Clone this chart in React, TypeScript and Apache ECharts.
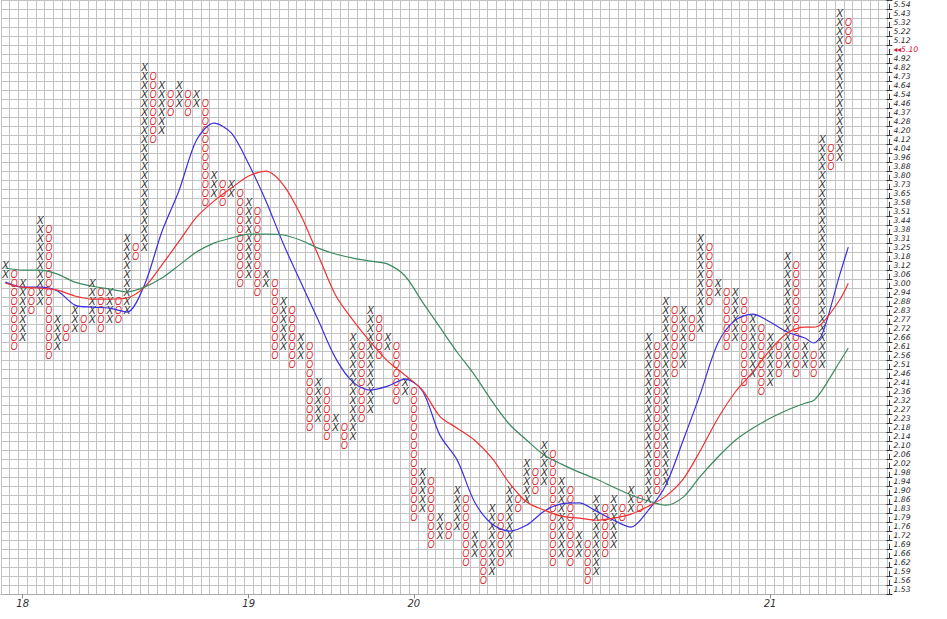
import React, { useEffect, useRef } from "react";
import * as echarts from "echarts";

// Box levels (top to bottom), 2% log boxes
const levels = [
  5.54, 5.43, 5.32, 5.22, 5.12, 5.02, 4.92, 4.82, 4.73, 4.64, 4.54, 4.46, 4.37, 4.28, 4.2, 4.12,
  4.04, 3.96, 3.88, 3.8, 3.73, 3.65, 3.58, 3.51, 3.44, 3.38, 3.31, 3.25, 3.18, 3.12, 3.06, 3.0,
  2.94, 2.88, 2.83, 2.77, 2.72, 2.66, 2.61, 2.56, 2.51, 2.46, 2.41, 2.36, 2.32, 2.27, 2.23, 2.18,
  2.14, 2.1, 2.06, 2.02, 1.98, 1.94, 1.9, 1.86, 1.83, 1.79, 1.76, 1.72, 1.69, 1.66, 1.62, 1.59,
  1.56, 1.53,
];
const lastPrice = 5.1;
const lastPriceLevel = 5.02;

// Point & figure columns
const colType = [
  "X","O","X","O","X","O","X","O","X","O","X","O","X","O","X","O","X","O","X","O",
  "X","O","X","O","X","O","X","O","X","O","X","O","X","O","X","O","X","O","X","O",
  "X","O","X","O","X","O","X","O","X","O","X","O","X","O","X","O","X","O","X","O",
  "X","O","X","O","X","O","X","O","X","O","X","O","X","O","X","O","X","O","X","O",
  "X","O","X","O","X","O","X","O","X","O","X","O","X","O","X","O","X","O",
];
const colHigh = [
  3.12, 3.06, 3.0, 2.94, 3.44, 3.38, 2.77, 2.72, 2.83, 2.77, 3.0, 2.94, 2.94, 2.88, 3.31, 3.25,
  4.82, 4.73, 4.64, 4.54, 4.64, 4.54, 4.54, 4.46, 3.8, 3.73, 3.73, 3.65, 3.58, 3.51, 3.06, 3.0,
  2.88, 2.83, 2.66, 2.61, 2.41, 2.36, 2.23, 2.18, 2.66, 2.61, 2.83, 2.77, 2.66, 2.61, 2.41, 2.36,
  1.98, 1.94, 1.79, 1.76, 1.9, 1.86, 1.72, 1.69, 1.83, 1.79, 1.9, 1.86, 2.02, 1.98, 2.1, 2.06,
  1.94, 1.9, 1.72, 1.69, 1.86, 1.83, 1.86, 1.83, 1.9, 1.86, 2.66, 2.61, 2.88, 2.83, 2.83, 2.77,
  3.31, 3.25, 3.0, 2.94, 2.94, 2.88, 2.77, 2.72, 2.66, 2.61, 3.18, 3.12, 2.61, 2.56, 4.12, 4.04,
  5.43, 5.32,
];
const colLow = [
  3.06, 2.61, 2.66, 2.83, 2.88, 2.56, 2.61, 2.66, 2.72, 2.72, 2.77, 2.72, 2.77, 2.77, 2.83, 3.18,
  3.25, 4.12, 4.2, 4.37, 4.46, 4.37, 4.46, 3.58, 3.65, 3.58, 3.65, 3.0, 3.06, 2.94, 3.0, 2.56,
  2.61, 2.51, 2.56, 2.18, 2.23, 2.14, 2.18, 2.1, 2.14, 2.23, 2.27, 2.56, 2.61, 2.32, 2.36, 1.79,
  1.83, 1.69, 1.72, 1.72, 1.76, 1.62, 1.66, 1.56, 1.59, 1.62, 1.66, 1.83, 1.86, 1.9, 1.94, 1.62,
  1.66, 1.62, 1.66, 1.56, 1.59, 1.66, 1.69, 1.79, 1.83, 1.83, 1.86, 1.9, 1.94, 2.46, 2.51, 2.66,
  2.72, 2.88, 2.94, 2.61, 2.66, 2.41, 2.46, 2.36, 2.41, 2.46, 2.51, 2.46, 2.51, 2.46, 2.51, 3.88,
  3.96, 5.12,
];

// Year labels on the column axis
const yearCols = [2, 28, 47, 88];
const yearTexts = ["18", "19", "20", "21"];

// Moving averages (price), sampled at these columns
const maCols = [
  0, 2, 4, 6, 8, 10, 12, 14, 16, 18, 20, 22, 24, 26, 28, 30, 32, 34, 36, 38, 40, 42, 44, 46, 48,
  50, 52, 54, 56, 58, 60, 62, 64, 66, 68, 70, 72, 74, 76, 78, 80, 82, 84, 86, 88, 90, 92, 93, 94,
  96, 97,
];
const maFast = [
  3.01, 2.977, 2.977, 2.952, 2.862, 2.849, 2.843, 2.818, 2.99, 3.361, 3.685, 4.115, 4.27, 4.179,
  3.903, 3.597, 3.273, 3.01, 2.769, 2.547, 2.416, 2.374, 2.395, 2.432, 2.369, 2.15, 2.035, 1.856,
  1.768, 1.741, 1.764, 1.819, 1.848, 1.852, 1.819, 1.783, 1.756, 1.823, 1.926, 2.126, 2.358,
  2.633, 2.769, 2.806, 2.757, 2.697, 2.662, 2.633, 2.685, 3.057, 3.251,
];
const maMid = [
  3.003, 2.977, 2.971, 2.958, 2.92, 2.9, 2.9, 2.907, 2.977, 3.125, 3.294, 3.473, 3.597, 3.702,
  3.801, 3.842, 3.727, 3.488, 3.194, 2.925, 2.769, 2.639, 2.53, 2.453, 2.374, 2.241, 2.183, 2.126,
  2.044, 1.935, 1.856, 1.823, 1.799, 1.791, 1.783, 1.791, 1.807, 1.839, 1.88, 1.952, 2.08, 2.231,
  2.364, 2.469, 2.592, 2.691, 2.726, 2.726, 2.751, 2.894, 3.003,
];
const maSlow = [
  3.105, 3.091, 3.091, 3.064, 3.01, 2.983, 2.965, 2.946, 2.977, 3.037, 3.125, 3.216, 3.28, 3.316,
  3.346, 3.346, 3.339, 3.301, 3.244, 3.202, 3.173, 3.152, 3.132, 3.051, 2.881, 2.726, 2.58, 2.453,
  2.317, 2.202, 2.126, 2.058, 2.017, 1.982, 1.952, 1.917, 1.885, 1.86, 1.843, 1.876, 1.965, 2.049,
  2.126, 2.183, 2.231, 2.272, 2.306, 2.32, 2.374, 2.525, 2.604,
];

const NCOLS = 102;
const NROWS = levels.length;
const q = Math.pow(levels[0] / levels[NROWS - 1], 1 / (NROWS - 1));
const priceToRow = (p: number) => NROWS - 0.5 - Math.log(levels[0] / p) / Math.log(q);

export default function App() {
  const ref = useRef<HTMLDivElement>(null);
  useEffect(() => {
    if (!ref.current) return;
    const chart = echarts.init(ref.current, undefined, { renderer: "svg" });

    const boxes: number[][] = [];
    colType.forEach((t, c) => {
      const iTop = levels.indexOf(colHigh[c]);
      const iBot = levels.indexOf(colLow[c]);
      for (let i = iTop; i <= iBot; i++) {
        boxes.push([c + 0.5, NROWS - 1 - i + 0.5, t === "X" ? 1 : 0]);
      }
    });

    const xCats = Array.from({ length: NCOLS }, (_, i) => {
      const k = yearCols.indexOf(i);
      return k >= 0 ? yearTexts[k] : "";
    });
    const yCats = levels.slice().reverse().map((v) => v.toFixed(2));
    const lastLabel = lastPriceLevel.toFixed(2);

    const maSeries = (vals: number[], color: string) => ({
      type: "line",
      xAxisIndex: 0,
      yAxisIndex: 0,
      data: maCols.map((c, i) => [c + 0.5, priceToRow(vals[i])]),
      smooth: 0.3,
      symbol: "none",
      z: 5,
      lineStyle: { color, width: 1.2 },
      silent: true,
    });

    const gridColor = "#c2c2c2";
    const labelFont = "DejaVu Sans";
    chart.setOption({
      animation: false,
      backgroundColor: "#ffffff",
      grid: { left: 1, top: 0.3, width: 886.4, height: 594 },
      xAxis: [
        {
          type: "value",
          min: 0,
          max: NCOLS,
          interval: 1,
          axisLine: { show: false },
          axisTick: { show: false },
          axisLabel: { show: false },
          splitLine: { show: true, lineStyle: { color: gridColor, width: 1 } },
        },
        {
          type: "category",
          position: "bottom",
          data: xCats,
          boundaryGap: true,
          axisLine: { show: true, lineStyle: { color: "#aaaaaa" } },
          axisTick: {
            show: true,
            alignWithLabel: true,
            length: 4,
            interval: (i: number) => xCats[i] !== "",
            lineStyle: { color: "#888888" },
          },
          axisLabel: {
            interval: 0,
            margin: 4,
            color: "#333333",
            fontSize: 10,
            fontStyle: "italic",
            fontFamily: labelFont,
          },
          splitLine: { show: false },
        },
      ],
      yAxis: [
        {
          type: "value",
          min: 0,
          max: NROWS,
          interval: 1,
          axisLine: { show: false },
          axisTick: { show: false },
          axisLabel: { show: false },
          splitLine: { show: true, lineStyle: { color: gridColor, width: 1 } },
        },
        {
          type: "category",
          position: "right",
          offset: 2,
          data: yCats,
          boundaryGap: true,
          axisLine: { show: true, lineStyle: { color: "#333333", type: [5, 4] } },
          axisTick: { show: true, interval: 0, length: 3, lineStyle: { color: "#333333" } },
          axisLabel: {
            interval: 0,
            margin: 4,
            color: "#2a2a2a",
            fontSize: 7.7,
            fontStyle: "italic",
            fontFamily: labelFont,
            formatter: (v: string) =>
              v === lastLabel ? "{r|\u25C2\u25C2" + lastPrice.toFixed(2) + "}" : v,
            rich: {
              r: {
                color: "#d4143c",
                fontSize: 7.7,
                fontStyle: "italic",
                fontFamily: labelFont,
              },
            },
          },
          splitLine: { show: false },
        },
        {
          type: "category",
          position: "right",
          offset: 2,
          data: yCats,
          boundaryGap: true,
          axisLine: { show: false },
          axisTick: {
            show: true,
            inside: true,
            interval: 0,
            length: 3,
            lineStyle: { color: "#333333" },
          },
          axisLabel: { show: false },
          splitLine: { show: false },
        },
      ],
      series: [
        {
          type: "custom",
          xAxisIndex: 0,
          yAxisIndex: 0,
          data: boxes,
          clip: false,
          silent: true,
          renderItem: (_p: any, api: any) => {
            const pt = api.coord([api.value(0), api.value(1)]);
            const isX = api.value(2) === 1;
            return {
              type: "text",
              x: pt[0],
              y: pt[1],
              scaleX: isX ? 1.3 : 1.15,
              scaleY: 1.25,
              style: {
                text: isX ? "X" : "O",
                fill: isX ? "#2b2b2b" : "#e0262b",
                fontSize: 8,
                fontStyle: "italic",
                fontFamily: "Liberation Sans",
                align: "center",
                verticalAlign: "middle",
              },
            };
          },
        },
        maSeries(maFast, "#3c2fe0"),
        maSeries(maMid, "#f23030"),
        maSeries(maSlow, "#3a8a5e"),
      ],
    });
    return () => chart.dispose();
  }, []);

  return (
    <div
      ref={ref}
      style={{ position: "absolute", left: 0, top: 0, width: 947, height: 619, background: "#fff" }}
    />
  );
}
